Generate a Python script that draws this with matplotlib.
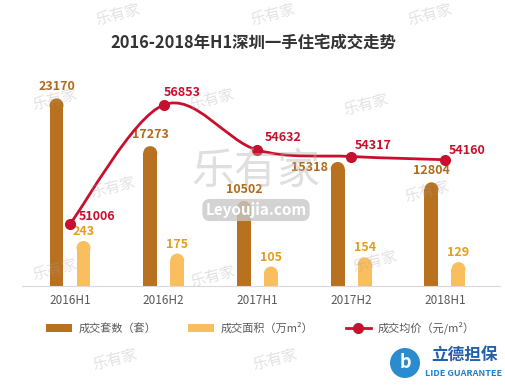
import numpy as np
import matplotlib
matplotlib.use("Agg")
import matplotlib.pyplot as plt
from matplotlib.patches import Ellipse, Patch, PathPatch
from matplotlib.path import Path
from matplotlib.lines import Line2D

plt.rcParams['font.family'] = ['Noto Sans CJK SC', 'DejaVu Sans']

### Data
periods = ["2016H1", "2016H2", "2017H1", "2017H2", "2018H1"]
deals = [23170, 17273, 10502, 15318, 12804]    # 成交套数（套）
area = [243, 175, 105, 154, 129]               # 成交面积（万m²）
price = [51006, 56853, 54632, 54317, 54160]    # 成交均价（元/m²）

# Colours
dark = "#B8711F"
light = "#F9BE5E"
red = "#C8102E"
dark_txt = "#B06A1C"
light_txt = "#E39E1C"

W, H = 506, 387
fig = plt.figure(figsize=(W/100, H/100), dpi=100)
ax = fig.add_axes([22/W, 101/H, 478/W, 206/H])
ax2 = ax.twinx()
ax3 = ax.twinx()

x = np.arange(len(periods))
bw = 0.149
off = 0.144
ax.set_xlim(-0.512, 4.587)
ax.set_ylim(0, 25441)
ax2.set_ylim(0, 1112)
ax3.set_ylim(47959, 58074)

def pill_bars(a, xs, vals, color, r):
    # bar with rounded top: rectangle + half ellipse cap
    a.bar(xs, np.array(vals) - r, width=bw, color=color, linewidth=0)
    for xi, v in zip(xs, vals):
        a.add_patch(Ellipse((xi, v - r), bw, 2*r, facecolor=color, linewidth=0))

pill_bars(ax, x - off, deals, dark, 7*25441/206)
pill_bars(ax2, x + off, area, light, 7*1112/206)

# bar labels
deal_offsets = [(0, 5), (0, 5), (0, 5), (-28, -12), (0, 5)]
for xi, v, (dx, dy) in zip(x - off, deals, deal_offsets):
    ax.annotate(str(v), (xi, v), xytext=(dx, dy), textcoords='offset pixels',
                ha='center', va='bottom', fontsize=9, fontweight='bold', color=dark_txt)
for xi, v in zip(x + off, area):
    ax2.annotate(str(v), (xi, v), xytext=(0, 3), textcoords='offset pixels',
                 ha='center', va='bottom', fontsize=9, fontweight='bold', color=light_txt)

# smoothed price line (cubic Bezier through the points)
pts = np.column_stack([x, price]).astype(float)
verts = [pts[0]]
codes = [Path.MOVETO]
n = len(pts)
for i in range(n - 1):
    p0 = pts[max(i-1, 0)]; p1 = pts[i]; p2 = pts[i+1]; p3 = pts[min(i+2, n-1)]
    verts += [p1 + (p2 - p0)/6, p2 - (p3 - p1)/6, p2]
    codes += [Path.CURVE4]*3
ax3.add_patch(PathPatch(Path(verts, codes), fill=False, edgecolor=red, lw=2, zorder=3))
ax3.plot(x, price, 'o', color=red, ms=7, zorder=4)

price_offsets = [(9, 7), (0, 12), (7, 13), (4, 11), (4, 9)]
for xi, v, (dx, dy) in zip(x, price, price_offsets):
    ax3.annotate(str(v), (xi, v), xytext=(dx, dy), textcoords='offset pixels',
                 ha='left', va='center', fontsize=9, fontweight='bold', color=red)

# axes styling
for a in (ax, ax2, ax3):
    for s in a.spines.values():
        s.set_visible(False)
    a.set_yticks([])
ax.spines['bottom'].set_visible(True)
ax.spines['bottom'].set_color('#d9d9d9')
ax.set_xticks(x, periods)
ax.tick_params(axis='x', length=0, pad=6, labelsize=8.5, labelcolor='#595959')

fig.text(0.5, 1 - 43/H, "2016-2018年H1深圳一手住宅成交走势", ha='center', va='center',
         fontsize=11.8, fontweight='bold', color='#333333')

handles = [Patch(facecolor=dark), Patch(facecolor=light),
           Line2D([], [], color=red, lw=2, marker='o', ms=7)]
labels = ["成交套数（套）", "成交面积（万m²）", "成交均价（元/m²）"]
leg = fig.legend(handles, labels, loc='center', bbox_to_anchor=(0.515, 1 - 328/H), ncol=3,
                 frameon=False, fontsize=8, handlelength=2.3, handletextpad=0.6,
                 columnspacing=2.9)
for t in leg.get_texts():
    t.set_color('#595959')

# watermarks
marks = [(118, 15), (273, 15), (430, 15), (55, 100), (212, 100), (366, 105),
         (113, 188), (427, 192), (55, 270), (213, 277), (375, 262),
         (115, 360), (275, 360)]
for mx, my in marks:
    fig.text(mx/W, 1 - my/H, "乐有家", ha='center', va='center', rotation=15,
             fontsize=11, color='#a0a0a0', alpha=0.3)
fig.text(256/W, 1 - 172/H, "乐有家", ha='center', va='center', fontsize=31,
         color='#b0b0b0', alpha=0.4)
fig.text(256/W, 1 - 210/H, "Leyoujia.com", ha='center', va='center', fontsize=11,
         fontweight='bold', color='white',
         bbox=dict(boxstyle='round,pad=0.2,rounding_size=0.5', fc='#c8c8c8', ec='none', alpha=0.8))

# logo
fig.patches.append(Ellipse((405/W, 1 - 363/H), 30/W, 30/H, transform=fig.transFigure,
                           facecolor='#2a8ccf', edgecolor='none'))
fig.text(405/W, 1 - 363/H, "b", ha='center', va='center', fontsize=13,
         fontweight='bold', color='white')
fig.text(465/W, 1 - 355/H, "立德担保", ha='center', va='center', fontsize=12,
         fontweight='bold', color='#1f5fae')
fig.text(464/W, 1 - 374/H, "LIDE GUARANTEE", ha='center', va='center', fontsize=6.5,
         fontweight='bold', color='#1f7fc8')

fig.savefig("out.png", dpi=100)
